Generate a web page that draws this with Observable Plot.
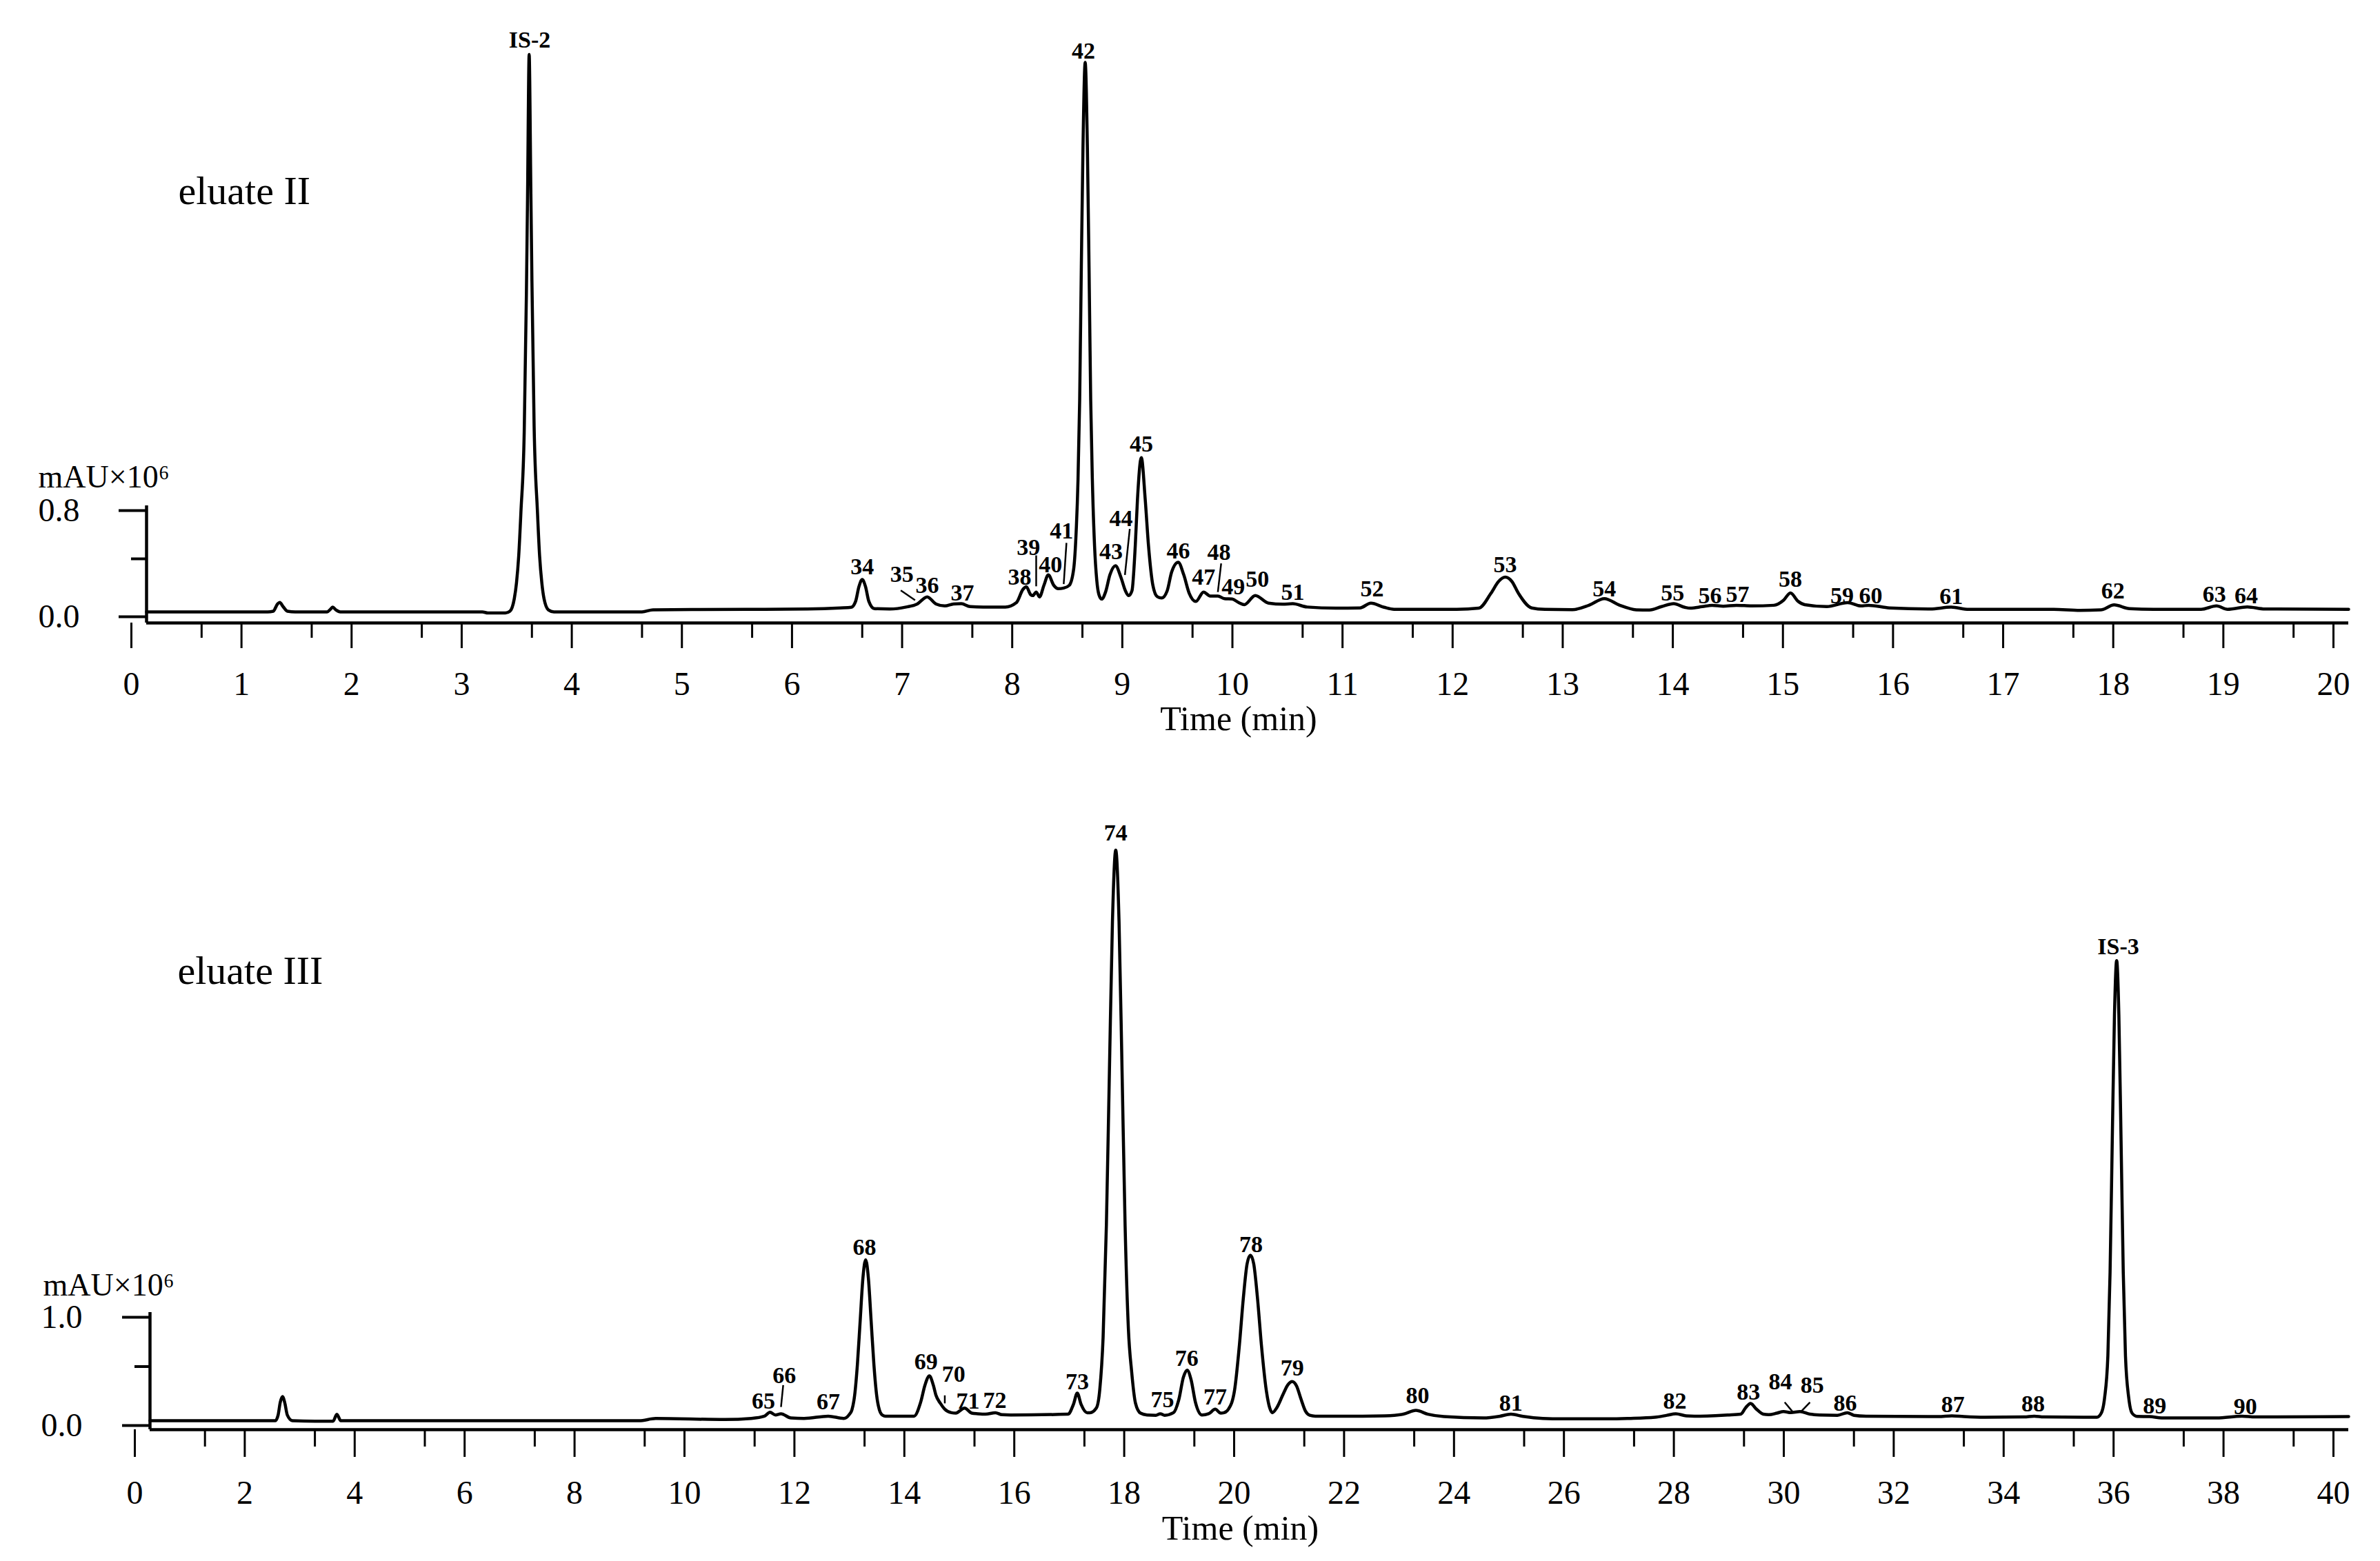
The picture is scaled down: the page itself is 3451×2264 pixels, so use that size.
<!DOCTYPE html>
<html><head><meta charset="utf-8">
<script src="https://cdn.jsdelivr.net/npm/d3@7"></script>
<script src="https://cdn.jsdelivr.net/npm/@observablehq/plot@0.6"></script>
<style>
html,body{margin:0;padding:0;background:#fff;}
#chart{width:3451px;height:2264px;overflow:hidden;}
#chart svg{display:block;overflow:visible;}
</style></head><body><div id="chart"></div>
<script>
// ---------- eluate II (top) ----------
const eluateIITime = [0.00,1.10,1.15,1.19,1.21,1.24,1.28,1.35,1.64,1.67,1.69,1.72,1.76,3.05,3.10,3.26,3.30,3.34,3.36,3.38,3.40,3.43,3.45,3.46,3.475,3.49,3.50,3.52,3.55,3.57,3.59,3.61,3.65,3.70,4.50,4.60,5.45,6.00,6.30,6.40,6.44,6.47,6.50,6.53,6.56,6.61,6.75,6.90,7.00,7.09,7.17,7.25,7.33,7.40,7.48,7.60,7.80,7.90,7.96,7.99,8.03,8.05,8.08,8.11,8.15,8.19,8.24,8.28,8.33,8.38,8.42,8.44,8.46,8.475,8.49,8.505,8.525,8.545,8.56,8.575,8.59,8.61,8.63,8.65,8.675,8.71,8.75,8.80,8.85,8.89,8.92,8.95,8.98,9.00,9.035,9.07,9.10,9.14,9.18,9.22,9.27,9.31,9.37,9.42,9.47,9.53,9.60,9.66,9.73,9.79,9.86,9.92,9.97,10.07,10.19,10.32,10.41,10.54,10.80,11.02,11.12,11.24,11.33,11.90,12.10,12.21,12.28,12.34,12.40,12.46,12.58,12.70,12.95,13.10,13.24,13.38,13.53,13.65,13.76,13.87,13.97,14.02,14.13,14.22,14.32,14.44,14.58,14.78,14.87,14.93,15.00,15.06,15.26,15.45,15.57,15.64,15.83,16.20,16.39,16.55,17.32,17.56,17.75,17.87,18.01,18.23,18.66,18.80,18.90,19.08,19.24,20.00];
const eluateIISignal = [0.000,0.000,0.005,0.060,0.071,0.040,0.005,0.000,0.000,0.020,0.036,0.015,0.000,0.000,-0.008,-0.008,0.005,0.10,0.22,0.42,0.75,1.35,2.40,3.10,4.20,3.20,2.50,1.40,0.76,0.42,0.22,0.10,0.015,0.000,0.000,0.016,0.019,0.022,0.030,0.035,0.08,0.19,0.244,0.19,0.08,0.025,0.022,0.037,0.06,0.113,0.06,0.045,0.06,0.062,0.04,0.037,0.037,0.07,0.17,0.19,0.13,0.123,0.15,0.113,0.20,0.279,0.20,0.175,0.18,0.20,0.32,0.55,1.0,1.6,2.6,3.5,4.14,3.5,2.6,1.6,1.0,0.5,0.24,0.13,0.097,0.15,0.28,0.348,0.26,0.16,0.123,0.16,0.50,0.85,1.162,0.85,0.50,0.20,0.115,0.105,0.16,0.30,0.374,0.28,0.14,0.079,0.15,0.12,0.12,0.10,0.097,0.07,0.054,0.123,0.066,0.058,0.062,0.037,0.028,0.03,0.066,0.035,0.02,0.02,0.028,0.14,0.23,0.262,0.23,0.14,0.03,0.019,0.017,0.05,0.10,0.05,0.016,0.014,0.04,0.062,0.035,0.028,0.04,0.05,0.043,0.05,0.045,0.05,0.09,0.143,0.08,0.055,0.04,0.07,0.045,0.05,0.03,0.022,0.036,0.019,0.019,0.012,0.015,0.053,0.025,0.02,0.02,0.045,0.02,0.038,0.022,0.02];
const eluateIILabels = ["IS-2","34","35","36","37","38","39","40","41","42","43","44","45","46","47","48","49","50","51","52","53","54","55","56","57","58","59","60","61","62","63","64"];
const eluateIILabelTime = [3.48,6.50,6.86,7.09,7.41,7.93,8.01,8.21,8.31,8.51,8.76,8.85,9.035,9.37,9.60,9.74,9.87,10.09,10.41,11.13,12.34,13.24,13.86,14.20,14.45,14.93,15.40,15.66,16.39,17.86,18.78,19.07];
const eluateIILabelHeight = [4.31,0.34,0.28,0.20,0.14,0.26,0.486,0.357,0.608,4.227,0.452,0.703,1.266,0.46,0.26,0.45,0.19,0.244,0.15,0.175,0.357,0.175,0.14,0.123,0.131,0.244,0.123,0.123,0.114,0.157,0.131,0.123];
const eluateIILeaders = [[6.85,0.162,6.98,0.088],[8.08,0.426,8.08,0.193],[8.355,0.52,8.33,0.21],[8.93,0.625,8.886,0.279],[9.76,0.366,9.73,0.15]];
const eluateIIMajorTicks = d3.range(0, 20.001, 1);
const eluateIIMinorTicks = d3.range(0.5, 20, 1);
const eluateIIYTicks = [0, 0.8];
const eluateIIYMinor = [0.4];

// ---------- eluate III (bottom) ----------
const eluateIIITime = [0.0,2.28,2.33,2.37,2.41,2.45,2.50,2.59,3.00,3.33,3.40,3.47,6.00,8.90,9.20,10.46,10.94,11.18,11.28,11.38,11.48,11.66,11.90,12.34,12.62,12.72,12.77,12.82,12.87,12.92,12.97,13.02,13.07,13.12,13.17,13.22,13.27,13.33,13.38,13.90,14.02,14.10,14.18,14.25,14.30,14.38,14.46,14.58,14.66,14.82,14.95,15.06,15.20,15.38,15.50,15.66,16.70,16.80,16.87,16.94,17.05,17.10,17.22,17.28,17.34,17.40,17.455,17.51,17.57,17.63,17.685,17.74,17.80,17.86,17.93,18.02,18.14,18.30,18.38,18.46,18.62,18.72,18.80,18.87,18.94,19.02,19.14,19.26,19.38,19.48,19.54,19.62,19.73,19.82,19.89,19.96,20.02,20.08,20.15,20.22,20.31,20.37,20.42,20.50,20.62,20.70,20.78,20.86,20.94,21.02,21.10,21.20,22.06,22.46,22.80,23.03,23.25,23.54,24.26,24.55,24.76,24.98,25.34,25.70,26.54,26.90,27.38,27.60,27.76,27.95,28.10,28.70,28.94,29.03,29.12,29.22,29.35,29.45,29.60,29.72,29.85,30.02,30.20,30.38,30.70,30.88,31.00,31.22,32.54,32.78,33.00,33.38,34.10,34.28,34.45,35.42,35.50,35.56,35.62,35.66,35.70,35.74,35.78,35.82,35.86,35.90,35.94,36.00,36.06,36.15,36.38,36.60,37.60,38.06,38.30,40.00];
const eluateIIISignal = [0.0,0.0,0.05,0.17,0.223,0.17,0.05,0.0,-0.005,-0.005,0.059,0.0,0.0,0.0,0.02,0.011,0.021,0.042,0.078,0.053,0.064,0.025,0.021,0.042,0.021,0.056,0.10,0.235,0.52,0.92,1.315,1.486,1.315,0.92,0.52,0.235,0.10,0.05,0.042,0.042,0.17,0.33,0.414,0.33,0.234,0.16,0.106,0.074,0.07,0.117,0.07,0.064,0.06,0.074,0.055,0.053,0.06,0.15,0.255,0.15,0.074,0.074,0.12,0.29,0.77,1.81,3.23,4.61,5.27,4.61,3.23,1.81,0.85,0.45,0.16,0.07,0.053,0.05,0.064,0.05,0.074,0.20,0.40,0.467,0.38,0.17,0.053,0.064,0.106,0.07,0.074,0.106,0.276,0.70,1.125,1.45,1.529,1.45,1.125,0.70,0.276,0.12,0.074,0.12,0.25,0.33,0.361,0.32,0.20,0.09,0.05,0.042,0.042,0.045,0.06,0.095,0.06,0.038,0.025,0.04,0.06,0.04,0.021,0.017,0.017,0.021,0.032,0.05,0.064,0.045,0.042,0.053,0.06,0.12,0.16,0.11,0.06,0.055,0.07,0.085,0.075,0.085,0.06,0.053,0.05,0.074,0.05,0.042,0.038,0.045,0.038,0.032,0.035,0.042,0.035,0.032,0.07,0.21,0.60,1.37,2.59,3.75,4.25,3.75,2.59,1.37,0.60,0.21,0.07,0.04,0.038,0.025,0.025,0.042,0.035,0.038];
const eluateIIILabels = ["65","66","67","68","69","70","71","72","73","74","75","76","77","78","79","80","81","82","83","84","85","86","87","88","IS-3","89","90"];
const eluateIIILabelTime = [11.16,11.54,12.34,13.0,14.12,14.62,14.88,15.37,16.87,17.57,18.42,18.86,19.38,20.03,20.78,23.06,24.76,27.74,29.08,29.66,30.24,30.84,32.8,34.26,35.81,36.47,38.12];
const eluateIIILabelHeight = [0.18,0.414,0.175,1.603,0.545,0.43,0.18,0.19,0.361,5.43,0.195,0.578,0.216,1.624,0.488,0.234,0.16,0.18,0.265,0.36,0.33,0.16,0.15,0.153,4.38,0.138,0.132];
const eluateIIILeaders = [[11.52,0.329,11.48,0.127],[14.46,0.234,14.46,0.16],[29.74,0.17,29.88,0.085],[30.2,0.17,30.04,0.085]];
const eluateIIIMajorTicks = d3.range(0, 40.001, 2);
const eluateIIIMinorTicks = d3.range(1, 40, 2);
const eluateIIIYTicks = [0, 1.0];
const eluateIIIYMinor = [0.5];

const FONT = "'Liberation Serif', 'Times New Roman', serif";

function panel(cfg) {
  const trace = cfg.time.map((t, i) => ({t, v: cfg.signal[i]}));
  const labels = cfg.labels.map((s, i) => ({s, t: cfg.labelTime[i], v: cfg.labelHeight[i]}));
  const leaders = cfg.leaders.map(([x1, y1, x2, y2]) => ({x1, y1, x2, y2}));
  const yMin = cfg.yDomain[0];
  return Plot.plot({
    width: 3451, height: cfg.height,
    marginLeft: cfg.ml, marginRight: 46, marginTop: 20, marginBottom: cfg.mb,
    x: {domain: cfg.xDomain, label: null},
    y: {domain: cfg.yDomain, label: null},
    style: {fontFamily: FONT, background: "white", color: "black", overflow: "visible"},
    marks: [
      Plot.ruleY([yMin], {stroke: "black", strokeWidth: 4.5}),
      Plot.ruleX([0], {y1: yMin, y2: cfg.yTicks[1], stroke: "black", strokeWidth: 4.5}),
      Plot.axisX({ticks: cfg.major, tickSize: cfg.majorSize, tickPadding: 33, fontSize: 48, dx: -22, strokeWidth: 3, tickFormat: d => String(d), fontFamily: FONT}),
      Plot.axisX({ticks: cfg.minor, tickSize: cfg.minorSize, strokeWidth: 3, tickFormat: () => ""}),
      Plot.axisY({ticks: cfg.yTicks, tickSize: 40, tickPadding: cfg.yPad, fontSize: 48, dy: 7, strokeWidth: 4, tickFormat: d3.format(".1f"), fontFamily: FONT}),
      Plot.axisY({ticks: cfg.yMinor, tickSize: 22, strokeWidth: 4, tickFormat: () => ""}),
      Plot.line(trace, {x: "t", y: "v", curve: "monotone-x", stroke: "black", strokeWidth: 4.5, strokeLinejoin: "round"}),
      Plot.link(leaders, {x1: "x1", y1: "y1", x2: "x2", y2: "y2", stroke: "black", strokeWidth: 2.5}),
      Plot.text(labels, {x: "t", y: "v", text: "s", fontSize: 34, fontWeight: "bold", lineAnchor: "middle", fill: "black"}),
      Plot.text([{x: 0, y: cfg.yTicks[1], s: "mAU×10⁶"}], {x: "x", y: "y", text: "s", dx: cfg.mauDx, dy: cfg.mauDy, textAnchor: "start", lineAnchor: "bottom", fontSize: 46, fill: "black"}),
      Plot.text([cfg.name], {frameAnchor: "top-left", dx: cfg.nameDx, dy: cfg.nameDy, textAnchor: "start", lineAnchor: "bottom", fontSize: 58, fill: "black"}),
      Plot.text(["Time (min)"], {frameAnchor: "bottom", dx: -13, dy: cfg.titleDy, lineAnchor: "bottom", fontSize: 50, fill: "black"})
    ]
  });
}

const chart = document.getElementById("chart");
chart.appendChild(panel({
  name: "eluate II", height: 1130, ml: 212, mb: 227,
  xDomain: [0, 20], yDomain: [-16 / 192.5, 867 / 192.5],
  time: eluateIITime, signal: eluateIISignal,
  labels: eluateIILabels, labelTime: eluateIILabelTime, labelHeight: eluateIILabelHeight,
  leaders: eluateIILeaders,
  major: eluateIIMajorTicks, minor: eluateIIMinorTicks, majorSize: 37, minorSize: 22,
  yTicks: eluateIIYTicks, yMinor: eluateIIYMinor, yPad: 57,
  mauDx: -157, mauDy: -27, nameDx: 46, nameDy: 275, titleDy: 155
}));
chart.appendChild(panel({
  name: "eluate III", height: 1134, ml: 217, mb: 191,
  xDomain: [0, 40], yDomain: [-13 / 157, 910 / 157],
  time: eluateIIITime, signal: eluateIIISignal,
  labels: eluateIIILabels, labelTime: eluateIIILabelTime, labelHeight: eluateIIILabelHeight,
  leaders: eluateIIILeaders,
  major: eluateIIIMajorTicks, minor: eluateIIIMinorTicks, majorSize: 40, minorSize: 25,
  yTicks: eluateIIIYTicks, yMinor: eluateIIIYMinor, yPad: 58,
  mauDx: -155, mauDy: -25, nameDx: 40, nameDy: 276, titleDy: 159
}));
</script>
</body></html>
